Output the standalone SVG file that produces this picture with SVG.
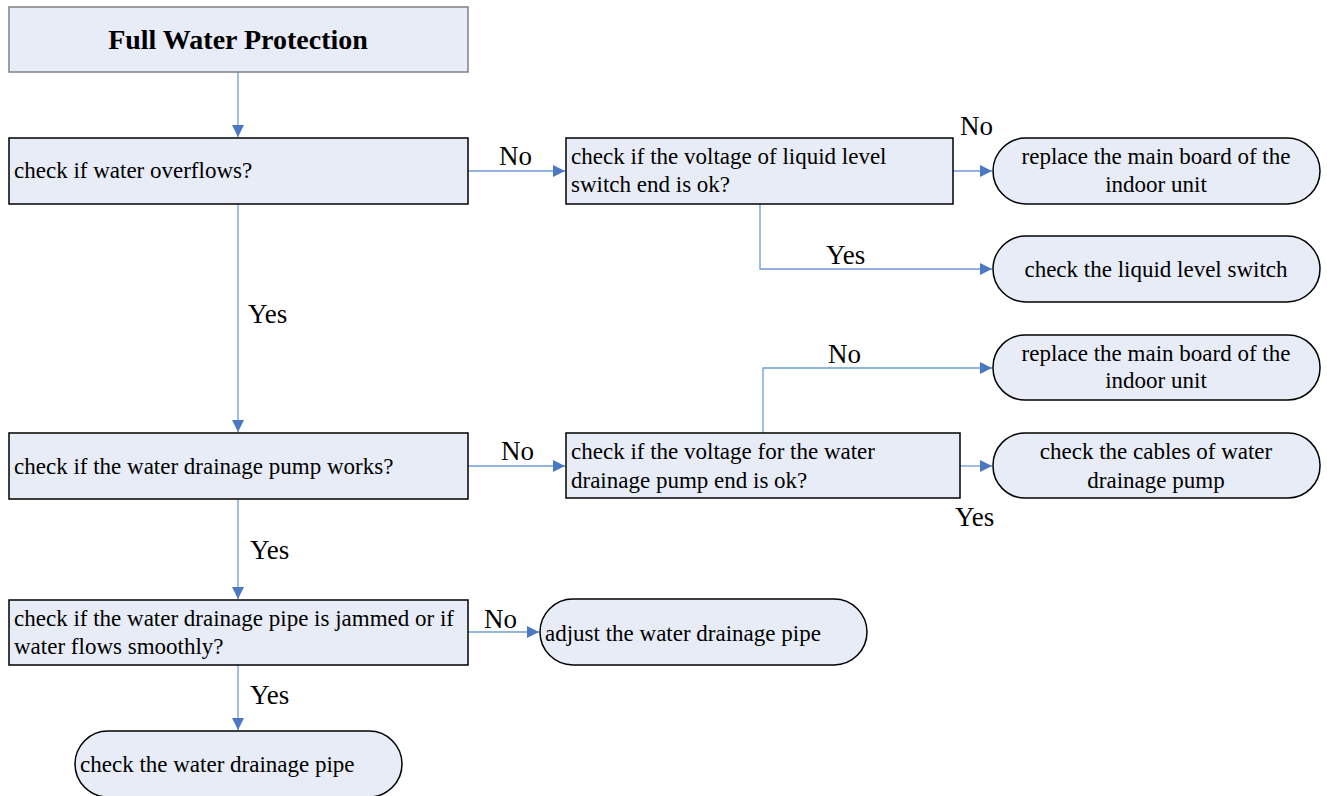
<svg xmlns="http://www.w3.org/2000/svg" width="1327" height="796" viewBox="0 0 1327 796" font-family="Liberation Serif, Times New Roman, serif">
<style>
.box{fill:#E7ECF6;stroke:#000;stroke-width:1.5}
.top{fill:#E7ECF6;stroke:#808080;stroke-width:1.5}
text{font-family:'Liberation Serif','Times New Roman',serif;fill:#000}
.t{font-size:23px}
.c{text-anchor:middle}
.lbl{font-size:27px}
.ln{fill:none;stroke:#6F9BD6;stroke-width:1.3;marker-end:url(#ah)}
</style>
<defs>
<marker id="ah" markerWidth="13" markerHeight="13" refX="12" refY="6" orient="auto" markerUnits="userSpaceOnUse">
<path d="M0,0 L12,6 L0,12 Z" fill="#4A78C2"/>
</marker>
</defs>
<rect width="1327" height="796" fill="#fff"/>
<g id="connectors">
<path class="ln" d="M238,72 V137"/>
<path class="ln" d="M468,171 H565"/>
<path class="ln" d="M953,171 H992"/>
<path class="ln" d="M760,204 V269 H992"/>
<path class="ln" d="M238,204 V432"/>
<path class="ln" d="M468,466 H565"/>
<path class="ln" d="M763,433 V368 H992"/>
<path class="ln" d="M960,466 H992"/>
<path class="ln" d="M238,499 V599"/>
<path class="ln" d="M468,632 H539"/>
<path class="ln" d="M238,665 V730"/>
<text class="lbl" x="499" y="165">No</text>
<text class="lbl" x="960" y="135">No</text>
<text class="lbl" x="826" y="264">Yes</text>
<text class="lbl" x="248" y="323">Yes</text>
<text class="lbl" x="501" y="460">No</text>
<text class="lbl" x="828" y="363">No</text>
<text class="lbl" x="955" y="526">Yes</text>
<text class="lbl" x="250" y="559">Yes</text>
<text class="lbl" x="484" y="628">No</text>
<text class="lbl" x="250" y="704">Yes</text>
</g>
<g id="n_start">
<rect class="top" x="9" y="7" width="459" height="65"/>
<text class="c" x="238" y="49" style="font-size:28px;font-weight:bold">Full Water Protection</text>
</g>
<g id="n_overflow">
<rect class="box" x="9" y="138" width="459" height="66"/>
<text class="t" x="14" y="178">check if water overflows?</text>
</g>
<g id="n_voltage_switch">
<rect class="box" x="566" y="138" width="387" height="66"/>
<text class="t" x="571" y="164">check if the voltage of liquid level</text>
<text class="t" x="571" y="192">switch end is ok?</text>
</g>
<g id="n_replace1">
<rect class="box" x="993" y="138" width="327" height="66" rx="33"/>
<text class="t c" x="1156" y="164">replace the main board of the</text>
<text class="t c" x="1156" y="192">indoor unit</text>
</g>
<g id="n_liquid">
<rect class="box" x="993" y="236" width="327" height="66" rx="33"/>
<text class="t c" x="1156" y="277">check the liquid level switch</text>
</g>
<g id="n_pump">
<rect class="box" x="9" y="433" width="459" height="66"/>
<text class="t" x="14" y="474">check if the water drainage pump works?</text>
</g>
<g id="n_voltage_pump">
<rect class="box" x="566" y="433" width="394" height="65"/>
<text class="t" x="571" y="459">check if the voltage for the water</text>
<text class="t" x="571" y="488">drainage pump end is ok?</text>
</g>
<g id="n_replace2">
<rect class="box" x="993" y="335" width="327" height="65" rx="32"/>
<text class="t c" x="1156" y="361">replace the main board of the</text>
<text class="t c" x="1156" y="388">indoor unit</text>
</g>
<g id="n_cables">
<rect class="box" x="993" y="433" width="327" height="65" rx="32"/>
<text class="t c" x="1156" y="459">check the cables of water</text>
<text class="t c" x="1156" y="488">drainage pump</text>
</g>
<g id="n_pipe_check">
<rect class="box" x="9" y="600" width="459" height="65"/>
<text class="t" x="14" y="626">check if the water drainage pipe is jammed or if</text>
<text class="t" x="14" y="654">water flows smoothly?</text>
</g>
<g id="n_adjust">
<rect class="box" x="540" y="599" width="327" height="66" rx="33"/>
<text class="t" x="545" y="641">adjust the water drainage pipe</text>
</g>
<g id="n_pipe">
<rect class="box" x="75" y="731" width="327" height="66" rx="33"/>
<text class="t" x="80" y="772">check the water drainage pipe</text>
</g>
</svg>
